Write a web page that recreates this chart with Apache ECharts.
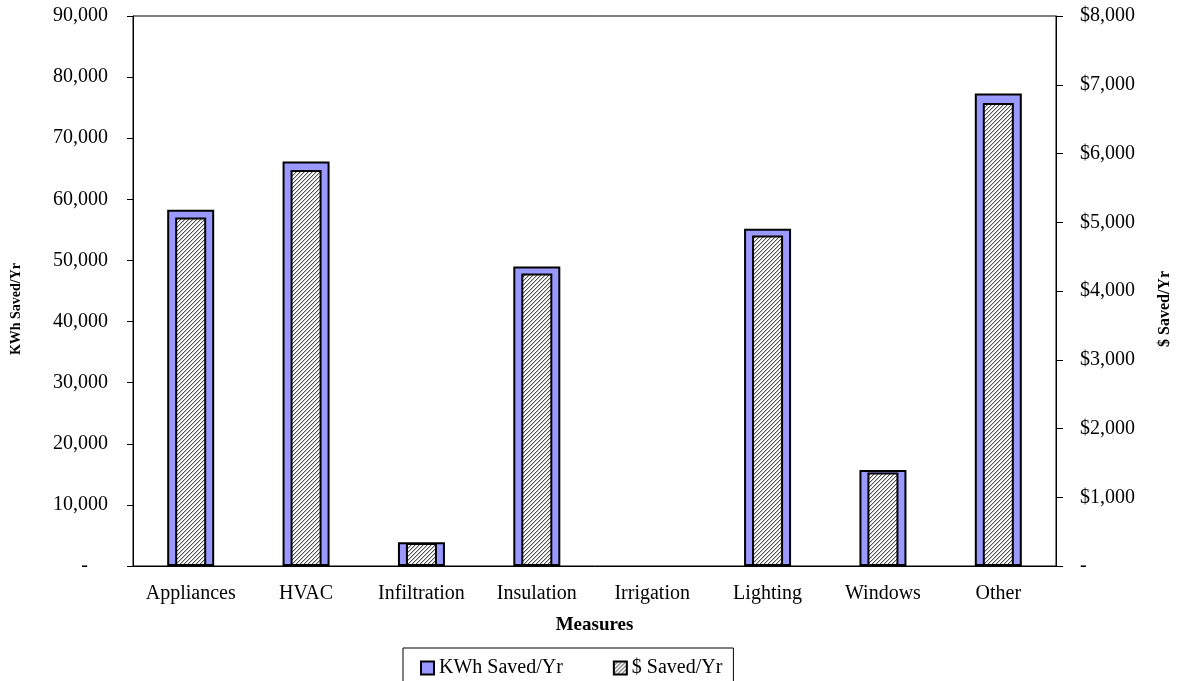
<!DOCTYPE html>
<html>
<head>
<meta charset="utf-8">
<title>Energy Savings by Measure</title>
<script src="https://cdn.jsdelivr.net/npm/echarts@6/dist/echarts.min.js"></script>
<style>
  html, body { margin: 0; padding: 0; background: #fff; }
  #chart { width: 1177px; height: 681px; }
</style>
</head>
<body>
<div id="chart"></div>
<script>
// Savings per measure
const categories = ['Appliances', 'HVAC', 'Infiltration', 'Insulation', 'Irrigation', 'Lighting', 'Windows', 'Other'];
const kwhSaved = [58300, 66200, 3900, 49000, 0, 55200, 15700, 77300];
const dollarsSaved = [5070, 5760, 335, 4255, 0, 4807, 1360, 6735];

const seriesNames = ['KWh Saved/Yr', '$ Saved/Yr'];
const kwhTicks = { min: 0, max: 90000, interval: 10000 };
const dollarTicks = { min: 0, max: 8000, interval: 1000 };

const FONT = '"Liberation Serif", "Times New Roman", serif';

// Fine diagonal hatch used for the dollar bars
function makeHatch() {
  const c = document.createElement('canvas');
  c.width = 4; c.height = 4;
  const ctx = c.getContext('2d');
  ctx.fillStyle = '#ffffff';
  ctx.fillRect(0, 0, 4, 4);
  for (let i = 0; i < 4; i++) {
    ctx.fillStyle = '#505050';
    ctx.fillRect(i, 3 - i, 1, 1);
    ctx.fillStyle = '#c4c4c4';
    ctx.fillRect((i + 1) % 4, 3 - i, 1, 1);
  }
  return c;
}
const hatch = { image: makeHatch(), repeat: 'repeat' };

const fmtThousands = v => Math.round(v).toString().replace(/\B(?=(\d{3})+(?!\d))/g, ',');

// a zero-height bar should leave no outline on the baseline
const barData = values => values.map(v => v === 0 ? { value: v, itemStyle: { borderWidth: 0 } } : v);

const chart = echarts.init(document.getElementById('chart'), null, { renderer: 'canvas' });

const axisText = { color: '#000', fontFamily: FONT, fontSize: 20 };

chart.setOption({
  backgroundColor: '#ffffff',
  animation: false,
  textStyle: { fontFamily: FONT, color: '#000' },
  grid: {
    left: 133, right: 121, top: 16, bottom: 115,
    containLabel: false,
    outerBoundsMode: 'none',
    show: true, borderColor: '#000', borderWidth: 1, backgroundColor: 'transparent'
  },
  legend: {
    data: seriesNames,
    left: 403, top: 648,
    orient: 'horizontal',
    itemWidth: 13, itemHeight: 13, itemGap: 50,
    icon: 'rect',
    borderColor: '#000', borderWidth: 1,
    padding: [10, 11, 14, 17],
    textStyle: { color: '#000', fontFamily: FONT, fontSize: 20 }
  },
  xAxis: [
    {
      type: 'category',
      data: categories,
      name: 'Measures',
      nameLocation: 'middle',
      nameGap: 50,
      nameTextStyle: { color: '#000', fontFamily: FONT, fontSize: 19, fontWeight: 'bold' },
      axisLine: { lineStyle: { color: '#000', width: 1 } },
      axisTick: { show: false },
      axisLabel: Object.assign({ margin: 18, interval: 0 }, axisText),
      splitLine: { show: false }
    },
    {
      type: 'category',
      data: categories,
      show: false
    }
  ],
  yAxis: [
    {
      type: 'value',
      position: 'left',
      min: kwhTicks.min, max: kwhTicks.max, interval: kwhTicks.interval,
      name: 'KWh Saved/Yr',
      nameLocation: 'middle',
      nameRotate: 90,
      nameGap: 110,
      nameTextStyle: { color: '#000', fontFamily: FONT, fontSize: 14, fontWeight: 'bold', padding: [0, 36, 0, 0] },
      axisLine: { show: true, lineStyle: { color: '#000', width: 1 } },
      axisTick: { show: true, inside: false, length: 6, lineStyle: { color: '#000' } },
      axisLabel: Object.assign({
        margin: 25,
        formatter: v => v === 0 ? '-    ' : fmtThousands(v)
      }, axisText),
      splitLine: { show: false }
    },
    {
      type: 'value',
      position: 'right',
      min: dollarTicks.min, max: dollarTicks.max, interval: dollarTicks.interval,
      name: '$ Saved/Yr',
      nameLocation: 'middle',
      nameRotate: 90,
      nameGap: 101,
      nameTextStyle: { color: '#000', fontFamily: FONT, fontSize: 16, fontWeight: 'bold', padding: [0, 36, 0, 0] },
      axisLine: { show: true, lineStyle: { color: '#000', width: 1 } },
      axisTick: { show: true, inside: false, length: 7, lineStyle: { color: '#000' } },
      axisLabel: Object.assign({
        margin: 24,
        formatter: v => v === 0 ? '-' : '$' + fmtThousands(v)
      }, axisText),
      splitLine: { show: false }
    }
  ],
  series: [
    {
      name: seriesNames[0],
      type: 'bar',
      xAxisIndex: 0,
      yAxisIndex: 0,
      data: barData(kwhSaved),
      barWidth: 47,
      itemStyle: { color: '#9999ff', borderColor: '#000', borderWidth: 2 },
      z: 2
    },
    {
      name: seriesNames[1],
      type: 'bar',
      xAxisIndex: 1,
      yAxisIndex: 1,
      data: barData(dollarsSaved),
      barWidth: 31,
      itemStyle: { color: hatch, borderColor: '#000', borderWidth: 2 },
      z: 3
    }
  ]
});
</script>
</body>
</html>
